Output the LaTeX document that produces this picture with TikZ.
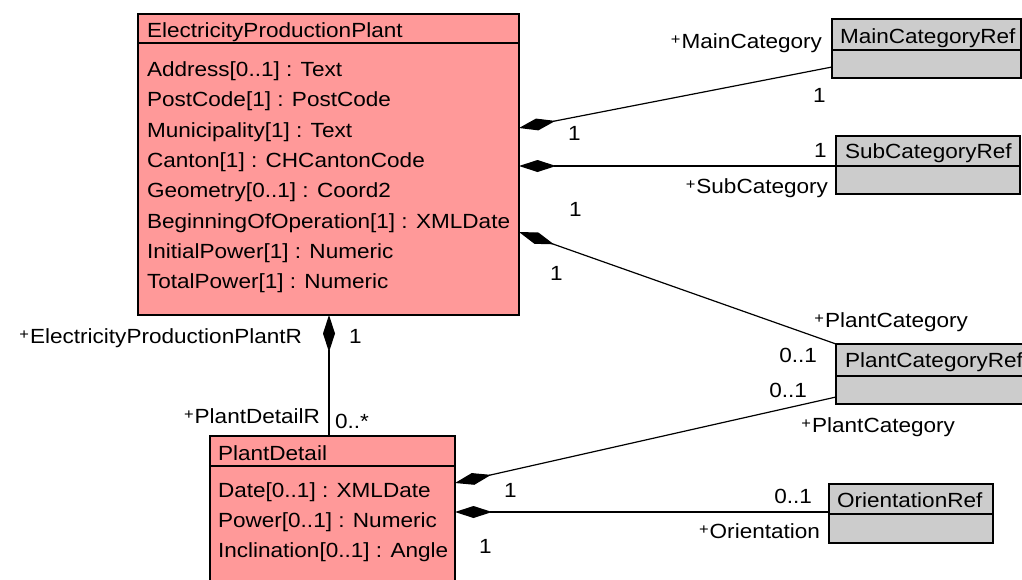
\documentclass[tikz,border=0pt]{standalone}
\usepackage{fontspec}
\setmainfont{Liberation Sans}[FakeStretch=1.1]
\usetikzlibrary{arrows.meta,calc}
\definecolor{clspink}{RGB}{255,153,153}
\definecolor{clsgray}{RGB}{204,204,204}
\newcommand\pl{\raisebox{4pt}{\fontsize{15}{15}\selectfont +}\hspace{1pt}}
\tikzset{
  cls/.style={draw=black, line width=1.3pt, anchor=north west, inner sep=0pt, outer sep=0pt},
  pinkcls/.style={cls, fill=clspink},
  graycls/.style={cls, fill=clsgray},
  txt/.style={inner sep=0pt, outer sep=0pt, font=\fontsize{20.5}{24}\selectfont, text=black},
  lw/.style={txt, anchor=base west},
  le/.style={txt, anchor=base east},
  conn/.style={line width=1.2pt, {Diamond[length=37pt,width=12pt]}-},
  divider/.style={line width=1.3pt}
}
\begin{document}
\begin{tikzpicture}[x=1pt,y=-1pt]
\useasboundingbox (0,0) rectangle (1022,579);
\clip (0,0) rectangle (1022,579);
\fill[white] (0,0) rectangle (1022,579);
% classes
\node[pinkcls, minimum width=381pt, minimum height=301pt] (epp) at (138,14) {};
\draw[divider] ($(epp.north west)+(0,29)$) -- ($(epp.north east)+(0,29)$);
\node[pinkcls, minimum width=245pt, minimum height=164pt] (pd) at (210,436) {};
\draw[divider] ($(pd.north west)+(0,30)$) -- ($(pd.north east)+(0,30)$);
\node[graycls, minimum width=189pt, minimum height=59pt] (mcr) at (832,19) {};
\draw[divider] ($(mcr.north west)+(0,31)$) -- ($(mcr.north east)+(0,31)$);
\node[graycls, minimum width=184pt, minimum height=58pt] (scr) at (836,136) {};
\draw[divider] ($(scr.north west)+(0,30)$) -- ($(scr.north east)+(0,30)$);
\node[graycls, minimum width=220pt, minimum height=60pt] (pcr) at (836,344) {};
\draw[divider] ($(pcr.north west)+(0,32)$) -- ($(pcr.north east)+(0,32)$);
\node[graycls, minimum width=164pt, minimum height=59pt] (ocr) at (829,484) {};
\draw[divider] ($(ocr.north west)+(0,30)$) -- ($(ocr.north east)+(0,30)$);
% class texts
\node[lw] (eppn) at (147,37) {ElectricityProductionPlant};
\node[lw] (eppa1) at (147,76) {Address[0..1] : Text};
\node[lw] (eppa2) at (147,106.5) {PostCode[1] : PostCode};
\node[lw] (eppa3) at (147,137) {Municipality[1] : Text};
\node[lw] (eppa4) at (147,167) {Canton[1] : CHCantonCode};
\node[lw] (eppa5) at (147,197.5) {Geometry[0..1] : Coord2};
\node[lw] (eppa6) at (147,228) {BeginningOfOperation[1] : XMLDate};
\node[lw] (eppa7) at (147,258) {InitialPower[1] : Numeric};
\node[lw] (eppa8) at (147,288) {TotalPower[1] : Numeric};
\node[lw] (pdn) at (218,460) {PlantDetail};
\node[lw] (pda1) at (218,497) {Date[0..1] : XMLDate};
\node[lw] (pda2) at (218,527) {Power[0..1] : Numeric};
\node[lw] (pda3) at (218,557) {Inclination[0..1] : Angle};
\node[lw] (mcrn) at (840,43) {MainCategoryRef};
\node[lw] (scrn) at (845,158) {SubCategoryRef};
\node[lw] (pcrn) at (845,367) {PlantCategoryRef};
\node[lw] (ocrn) at (837,507) {OrientationRef};
% connectors
\draw[conn] ($(epp.north east)+(0,114)$) -- ($(mcr.north west)+(0,48)$);
\draw[conn] ($(epp.north east)+(0,152)$) -- ($(scr.north west)+(0,30)$);
\draw[conn] ($(epp.north east)+(0,218)$) -- (pcr.north west);
\draw[conn] ($(pd.north east)+(0,47)$) -- ($(pcr.north west)+(0,53)$);
\draw[conn] ($(pd.north east)+(0,76)$) -- ($(ocr.north west)+(0,28)$);
\draw[conn] ($(epp.south west)+(191,0)$) -- ($(pd.north west)+(119,0)$);
% labels
\node[le] (lmc) at (822,48) {\pl MainCategory};
\node[lw] (lm1a) at (813,102) {1};
\node[lw] (lm1b) at (568,140) {1};
\node[lw] (ls1a) at (814,157) {1};
\node[le] (lsc) at (828,193) {\pl SubCategory};
\node[lw] (ls1b) at (569,216) {1};
\node[lw] (lp1) at (550,280) {1};
\node[le] (lpc1) at (968,327) {\pl PlantCategory};
\node[le] (lz1) at (817,362) {0..1};
\node[le] (lz2) at (807,397) {0..1};
\node[le] (lpc2) at (955,432) {\pl PlantCategory};
\node[le] (lz3) at (812,503) {0..1};
\node[le] (lor) at (820,538) {\pl Orientation};
\node[lw] (ld1) at (504,497) {1};
\node[lw] (ld2) at (479,553) {1};
\node[le] (leppr) at (302,343) {\pl ElectricityProductionPlantR};
\node[lw] (lv1) at (349,343) {1};
\node[le] (lpdr) at (320,423) {\pl PlantDetailR};
\node[lw] (lzs) at (335,428) {0..*};
\end{tikzpicture}
\end{document}
